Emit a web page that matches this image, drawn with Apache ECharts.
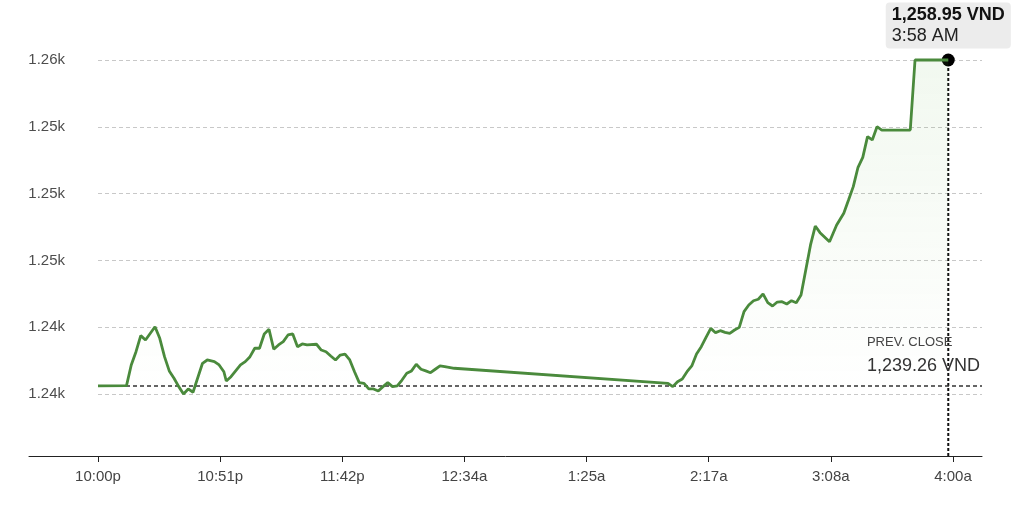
<!DOCTYPE html>
<html><head><meta charset="utf-8">
<script src="https://cdn.jsdelivr.net/npm/echarts@6/dist/echarts.min.js"></script>
<style>html,body{margin:0;padding:0;background:#fff}#c{width:1020px;height:512px}</style>
</head><body><div id="c"></div>
<script>
// minutes since 10:00 PM
const minutes = [0,12,14,16,18,20,24,26,28,30,32,34,36,38,40,44,46,49,51,53,54,56,60,62,64,66,68,70,72,74,76,78,80,82,84,86,88,92,94,96,98,100,102,104,106,108,110,112,114,116,118,120,122,124,126,128,130,132,134,136,138,140,142,144,146,150,240,242,244,246,248,250,252,254,256,258,260,262,264,266,268,270,272,274,276,278,280,282,284,286,288,290,292,294,296,300,302,304,308,311,314,316,318,320,322,324,326,328,330,342,344,358];
const prices = [1239.26,1239.28,1240.53,1241.33,1242.30,1242.04,1242.84,1242.14,1241.03,1240.17,1239.73,1239.22,1238.78,1239.08,1238.88,1240.63,1240.83,1240.73,1240.53,1240.12,1239.56,1239.82,1240.53,1240.73,1241.03,1241.54,1241.54,1242.40,1242.68,1241.48,1241.74,1241.94,1242.34,1242.40,1241.63,1241.80,1241.74,1241.78,1241.43,1241.33,1241.07,1240.83,1241.13,1241.19,1240.83,1240.12,1239.46,1239.42,1239.08,1239.08,1238.96,1239.22,1239.46,1239.22,1239.26,1239.62,1240.03,1240.17,1240.57,1240.27,1240.17,1240.06,1240.27,1240.47,1240.43,1240.33,1239.42,1239.22,1239.52,1239.68,1240.12,1240.47,1241.19,1241.63,1242.20,1242.74,1242.48,1242.60,1242.50,1242.44,1242.64,1242.80,1243.75,1244.15,1244.41,1244.50,1244.82,1244.29,1244.09,1244.33,1244.35,1244.21,1244.41,1244.29,1244.76,1247.78,1248.92,1248.52,1247.97,1248.98,1249.69,1250.49,1251.30,1252.47,1253.07,1254.32,1254.12,1254.92,1254.72,1254.72,1258.95,1258.95];
const prevClose = 1239.26;
const xTickValues = [0, 51.4286, 102.8571, 154.2857, 205.7143, 257.1429, 308.5714, 360];
const xTickLabels = ['10:00p','10:51p','11:42p','12:34a','1:25a','2:17a','3:08a','4:00a'];
const yMin = 1238.775, yStep = 4.035, yMax = 1258.95;
const xMax = 372.2, xAxisLineStart = -29.05;

const FONT = '"Liberation Sans", Arial, Helvetica, sans-serif';
const lastT = minutes[minutes.length - 1];
const lastV = prices[prices.length - 1];
const fmtMoney = v => v.toLocaleString('en-US', {minimumFractionDigits: 2, maximumFractionDigits: 2}) + ' VND';
const fmtTime = t => { const m = (22 * 60 + t) % 1440; let h = Math.floor(m / 60); const mm = m % 60; const ap = h >= 12 ? 'PM' : 'AM'; h = h % 12; if (h === 0) h = 12; return h + ':' + String(mm).padStart(2, '0') + ' ' + ap; };
const seriesData = minutes.map((m, i) => [m, prices[i]]);

const chart = echarts.init(document.getElementById('c'), null, {renderer: 'canvas'});
chart.setOption({
  animation: false,
  textStyle: {fontFamily: FONT},
  grid: [
    {left: 98, right: 38, top: 60, bottom: 118, containLabel: false},
    {left: 29, right: 38, top: 60, bottom: 56, containLabel: false}
  ],
  xAxis: [
    {type: 'value', gridIndex: 0, min: 0, max: xMax, show: false},
    {type: 'value', gridIndex: 1, min: xAxisLineStart, max: xMax,
      axisLine: {show: true, onZero: false, lineStyle: {color: '#222', width: 1}},
      axisTick: {show: true, length: 6, customValues: xTickValues, lineStyle: {color: '#222', width: 1}},
      axisLabel: {show: true, customValues: xTickValues, margin: 13, fontSize: 15, color: '#444', fontFamily: FONT,
        formatter: v => { let best = 0; xTickValues.forEach((t, i) => { if (Math.abs(t - v) < Math.abs(xTickValues[best] - v)) best = i; }); return xTickLabels[best]; }},
      splitLine: {show: false}}
  ],
  yAxis: [
    {type: 'value', gridIndex: 0, min: yMin, max: yMax, interval: yStep,
      axisLine: {show: false}, axisTick: {show: false},
      axisLabel: {margin: 33, fontSize: 15, color: '#4d4d4d', fontFamily: FONT, formatter: v => (v / 1000).toFixed(2) + 'k'},
      splitLine: {show: true, lineStyle: {color: '#c8c8c8', width: 1, type: [4, 3]}}},
    {type: 'value', gridIndex: 1, min: 0, max: 1, show: false}
  ],
  series: [
    {type: 'line', xAxisIndex: 1, yAxisIndex: 1, data: [[lastT, 0], [lastT, 1]], showSymbol: false, silent: true, z: 2,
      lineStyle: {color: '#111', width: 2, type: [3, 2]}},
    {type: 'line', xAxisIndex: 0, yAxisIndex: 0, data: seriesData, showSymbol: false, clip: false, z: 5,
      lineStyle: {color: '#4a8a3c', width: 2.8},
      areaStyle: {origin: 'start', color: {type: 'linear', x: 0, y: 0, x2: 0, y2: 1, colorStops: [
        {offset: 0, color: 'rgba(96,176,72,0.12)'}, {offset: 1, color: 'rgba(96,176,72,0)'}]}},
      markLine: {silent: true, symbol: ['none', 'none'],
        lineStyle: {color: '#333', width: 1.5, type: [4, 3]},
        data: [{yAxis: prevClose}],
        label: {show: true, position: 'insideEndTop', distance: [2, 7],
          formatter: '{a|PREV. CLOSE}\n{b|' + fmtMoney(prevClose) + '}',
          rich: {a: {fontSize: 13, color: '#444', lineHeight: 22, align: 'left', fontFamily: FONT},
                 b: {fontSize: 18, color: '#333', lineHeight: 26, align: 'left', fontFamily: FONT}}}},
      markPoint: {silent: true, symbol: 'circle', symbolSize: 13, itemStyle: {color: '#000'},
        data: [{coord: [lastT, lastV]}],
        label: {show: true, position: 'top', distance: 5,
          formatter: '{a|' + fmtMoney(lastV) + '}\n{b|' + fmtTime(lastT) + '}',
          backgroundColor: '#ececec', borderRadius: 4, padding: [2, 6, 2, 6],
          rich: {a: {fontSize: 18, fontWeight: 'bold', color: '#111', lineHeight: 21, align: 'left', fontFamily: FONT},
                 b: {fontSize: 18, color: '#222', lineHeight: 21, align: 'left', fontFamily: FONT}}}}}
  ]
});
</script>
</body></html>
